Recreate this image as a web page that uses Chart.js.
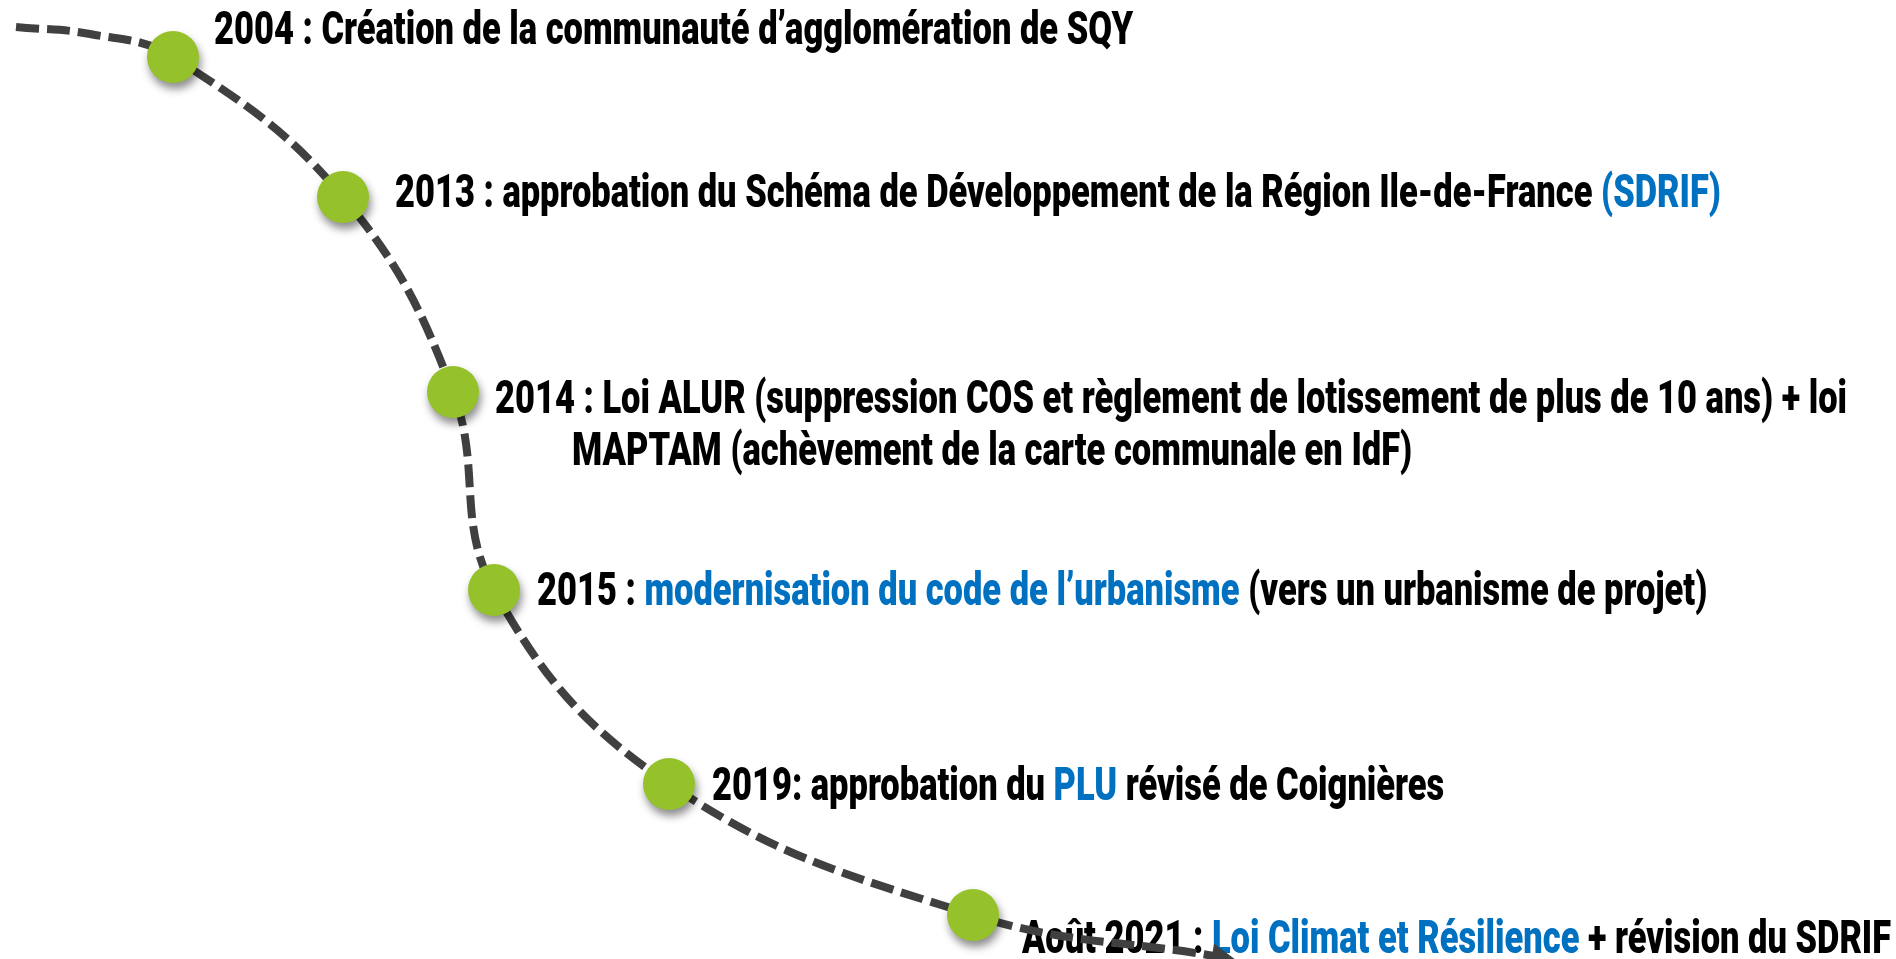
<!DOCTYPE html>
<html>
<head>
<meta charset="utf-8">
<script src="https://cdn.jsdelivr.net/npm/chart.js@4/dist/chart.umd.min.js"></script>
<style>
  html, body { margin: 0; padding: 0; background: #fff; overflow: hidden; }
  #wrap { width: 1896px; height: 959px; position: relative; }
</style>
</head>
<body>
<div id="wrap"><canvas id="timeline"></canvas></div>
<script>
/* ── Data ─────────────────────────────────────────────── */

// dashed path (diagram units = reference pixels)
const pathX = [16, 90, 173, 343, 453, 494, 669, 973, 1214];
const pathY = [27, 34, 57, 197, 392, 590, 784, 915, 956];

// milestone dots
const milestoneX = [173, 343, 453, 494, 669, 973];
const milestoneY = [57, 197, 392, 590, 784, 915];

// label text: each label = lines, each line = [text, highlighted]
const milestoneLabels = [
  [[['2004 : Création de la communauté d’agglomération de SQY', false]]],
  [[['2013 : approbation du Schéma de Développement de la Région Ile-de-France ', false], ['(SDRIF)', true]]],
  [
    [['2014 : Loi ALUR (suppression COS et règlement de lotissement de plus de 10 ans) + loi', false]],
    [['MAPTAM (achèvement de la carte communale en IdF)', false]],
  ],
  [[['2015 : ', false], ['modernisation du code de l’urbanisme', true], [' (vers un urbanisme de projet)', false]]],
  [[['2019: approbation du ', false], ['PLU', true], [' révisé de Coignières', false]]],
  [[['Août 2021 : ', false], ['Loi Climat et Résilience', true], [' + révision du SDRIF', false]]],
];

/* ── Layout / style ───────────────────────────────────── */

const labelDx = [41, 52, 42, 43, 43, 49];
const labelDy = [-25, -2, 9, 3, 4, 26];
const secondLine = { dx: 77, dy: 52 };
// widths of the label lines in the reference, used to condense the font
const lineWidths = [[929], [1334], [1345, 827], [1173], [734], [867]];
const FONT = '900 47px Roboto, "DejaVu Sans", sans-serif';
const BLACK = '#000000';
const BLUE = '#0070C0';
const GREEN = '#95C12B';
const LINE = '#404040';

/* ── Plugins ──────────────────────────────────────────── */

function lineText(segs) {
  return segs.map(s => s[0]).join('');
}

const labelPlugin = {
  id: 'milestoneLabels',
  beforeDatasetsDraw(chart) {
    const { ctx, scales } = chart;
    ctx.save();
    ctx.font = FONT;
    ctx.textBaseline = 'middle';

    // one global horizontal squeeze so the font looks condensed
    let natural = 0, target = 0;
    milestoneLabels.forEach((lines, i) => lines.forEach((segs, li) => {
      natural += ctx.measureText(lineText(segs)).width;
      target += lineWidths[i][li];
    }));
    const sx = target / natural;

    milestoneLabels.forEach((lines, i) => {
      const px = scales.x.getPixelForValue(milestoneX[i]);
      const py = scales.y.getPixelForValue(milestoneY[i]);
      lines.forEach((segs, li) => {
        let x = px + labelDx[i] + (li ? secondLine.dx : 0);
        const y = py + labelDy[i] + (li ? secondLine.dy : 0);
        segs.forEach(([text, hi]) => {
          ctx.fillStyle = hi ? BLUE : BLACK;
          ctx.save();
          ctx.translate(x, y);
          ctx.scale(sx, 1);
          ctx.fillText(text, 0, 0);
          ctx.restore();
          x += ctx.measureText(text).width * sx;
        });
      });
    });
    ctx.restore();
  },
};

const arrowPlugin = {
  id: 'pathArrow',
  afterDatasetDraw(chart, args) {
    if (args.index !== 0) return;
    const pts = chart.getDatasetMeta(0).data;
    const end = pts[pts.length - 1];
    const fromX = end.cp1x ?? pts[pts.length - 2].x;
    const fromY = end.cp1y ?? pts[pts.length - 2].y;
    const ang = Math.atan2(end.y - fromY, end.x - fromX);
    const { ctx } = chart;
    ctx.save();
    ctx.translate(end.x, end.y);
    ctx.rotate(ang);
    ctx.fillStyle = LINE;
    ctx.beginPath();
    ctx.moveTo(22, 0);
    ctx.lineTo(-2, -12);
    ctx.lineTo(-2, 12);
    ctx.closePath();
    ctx.fill();
    ctx.restore();
  },
};

const shadowPlugin = {
  id: 'dotShadow',
  beforeDatasetDraw(chart, args) {
    if (args.index !== 1) return;
    const ctx = chart.ctx;
    ctx.save();
    ctx.shadowColor = 'rgba(0,0,0,0.45)';
    ctx.shadowBlur = 9;
    ctx.shadowOffsetX = 2;
    ctx.shadowOffsetY = 6;
  },
  afterDatasetDraw(chart, args) {
    if (args.index !== 1) return;
    chart.ctx.restore();
  },
};

/* ── Chart ────────────────────────────────────────────── */

const ctx = document.getElementById('timeline').getContext('2d');
new Chart(ctx, {
  type: 'scatter',
  data: {
    datasets: [
      {
        data: pathX.map((x, i) => ({ x, y: pathY[i] })),
        showLine: true,
        borderColor: LINE,
        borderWidth: 8,
        borderDash: [23, 8],
        borderCapStyle: 'butt',
        tension: 0.4,
        pointRadius: 0,
        clip: false,
        order: 2,
      },
      {
        data: milestoneX.map((x, i) => ({ x, y: milestoneY[i] })),
        showLine: false,
        pointRadius: 26,
        pointHoverRadius: 26,
        backgroundColor: GREEN,
        borderWidth: 0,
        clip: false,
        order: 1,
      },
    ],
  },
  options: {
    responsive: true,
    maintainAspectRatio: false,
    animation: false,
    events: [],
    layout: { padding: 0, autoPadding: false },
    plugins: { legend: { display: false }, tooltip: { enabled: false } },
    scales: {
      x: { type: 'linear', min: 0, max: 1896, display: false },
      y: { type: 'linear', min: 0, max: 959, reverse: true, display: false },
    },
  },
  plugins: [labelPlugin, arrowPlugin, shadowPlugin],
});
</script>
</body>
</html>
